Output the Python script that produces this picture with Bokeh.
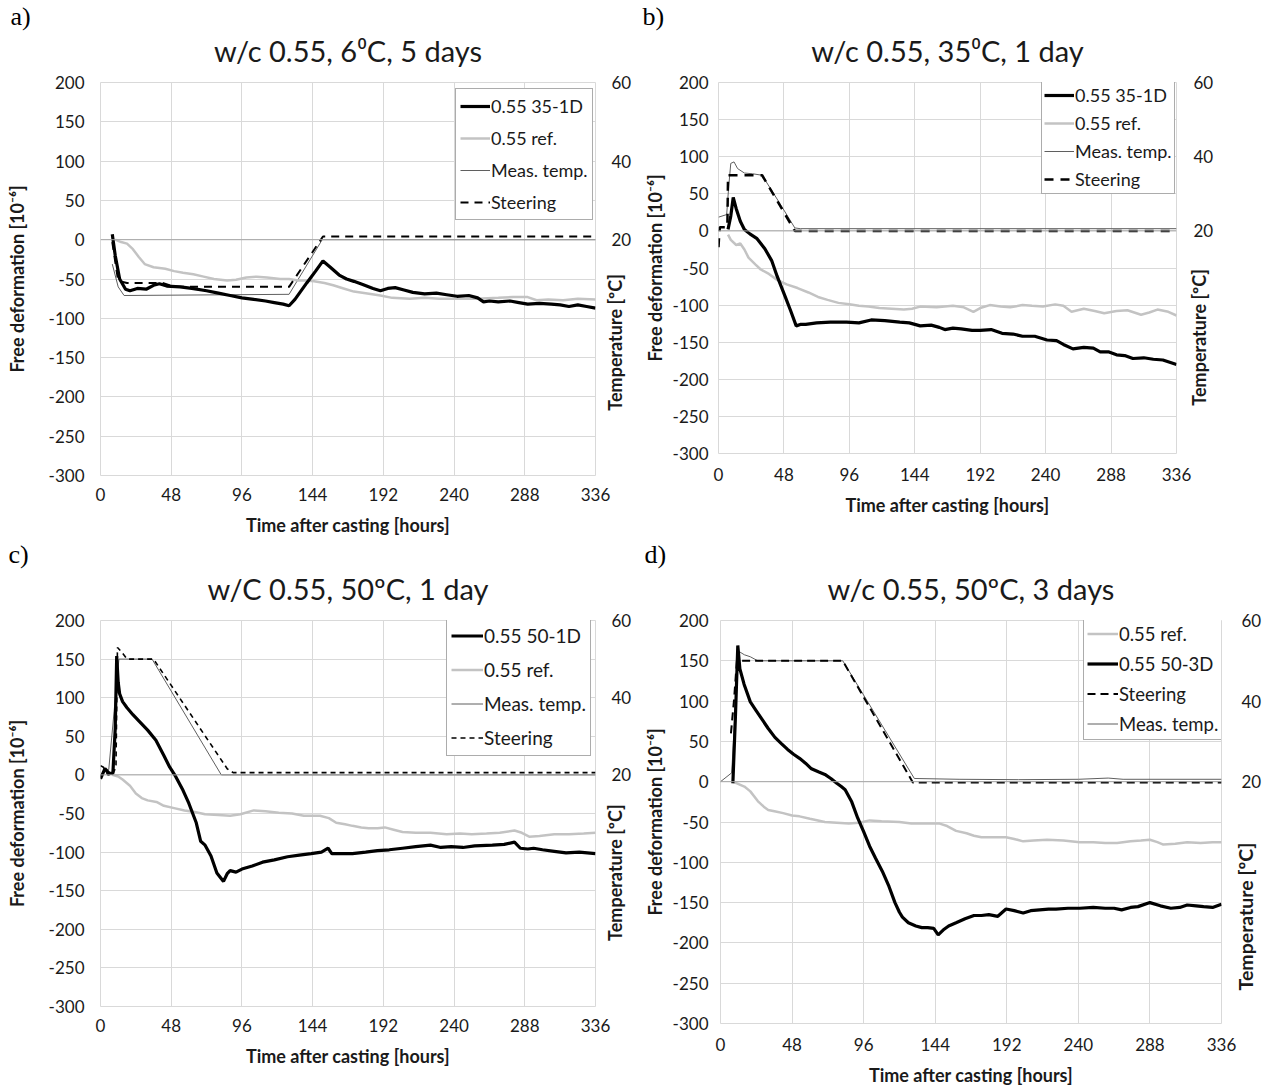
import math
from bokeh.plotting import figure
from bokeh.models import Range1d, LinearAxis, FixedTicker, Legend, LegendItem, Span, Title
from bokeh.layouts import column, row
from bokeh.embed import file_html
from bokeh.resources import INLINE

# ---------------- data ----------------
x_ticks = [0, 48, 96, 144, 192, 240, 288, 336]
y_ticks = [200, 150, 100, 50, 0, -50, -100, -150, -200, -250, -300]
temp_ticks = [20, 40, 60]

# panel a : w/c 0.55, 6 C, 5 days
a_t_main = [8, 10, 13, 17, 20, 25, 31, 36, 40, 45, 54, 62, 72, 80, 88, 96, 104, 112, 118, 124, 128,
            132, 140, 146, 151, 156, 162, 167, 172, 178, 185, 190, 195, 200, 206, 212, 220, 228, 235,
            242, 250, 256, 260, 264, 270, 278, 284, 290, 298, 306, 312, 318, 324, 330, 336]
a_d_main = [7, -20, -50, -63, -65, -62, -63, -58, -56, -59, -60, -62, -65, -68, -71, -74, -76, -78, -80,
            -82, -84, -76, -55, -40, -27, -35, -45, -50, -53, -57, -62, -65, -62, -61, -64, -67, -69,
            -68, -70, -72, -71, -74, -79, -78, -79, -78, -80, -82, -81, -82, -83, -85, -83, -85, -87]
a_t_ref = [10, 14, 18, 22, 26, 30, 36, 44, 50, 56, 63, 70, 77, 86, 92, 99, 106, 113, 122, 128, 134,
           140, 145, 152, 158, 165, 172, 180, 190, 198, 210, 220, 230, 240, 256, 270, 280, 290, 296,
           304, 314, 324, 336]
a_d_ref = [0, -3, -5, -12, -22, -31, -35, -37, -40, -42, -44, -47, -50, -52, -51, -48, -47, -48, -50,
           -50, -52, -52, -53, -55, -58, -62, -66, -68, -71, -74, -75, -74, -75, -75, -75, -74, -73,
           -73, -77, -76, -77, -75, -76]
a_t_meas = [8, 12, 16, 128, 150.5, 336]
a_temp_meas = [13.8, 8.0, 5.8, 6.1, 20.0, 20.0]
a_t_steer = [8, 12, 18, 42, 50, 128, 151, 336]
a_temp_steer = [19.4, 9.5, 9.0, 9.0, 8.0, 8.0, 20.8, 20.8]

# panel b : w/c 0.55, 35 C, 1 day
b_t_main = [7, 9, 10.8, 13, 16, 19, 23, 28, 34, 39, 43, 49, 53, 57, 60, 64, 72, 82, 94, 103, 112, 122,
            133, 140, 148, 156, 162, 166, 172, 178, 186, 192, 200, 208, 216, 223, 232, 241, 248, 253,
            260, 268, 275, 280, 286, 292, 298, 304, 312, 319, 326, 336]
b_d_main = [2, 20, 45, 30, 13, 2, -4, -10, -24, -40, -61, -89, -108, -128, -126, -126, -124, -123, -123,
            -124, -120, -121, -123, -124, -128, -127, -130, -133, -131, -132, -134, -134, -133, -138,
            -139, -142, -142, -147, -148, -153, -159, -157, -158, -163, -163, -167, -168, -172, -171,
            -173, -174, -180]
b_t_ref = [7, 9, 13, 16, 19, 22, 27, 31, 37, 43, 50, 58, 66, 73, 80, 88, 96, 103, 110, 118, 127, 136,
           142, 148, 160, 172, 180, 187, 192, 199, 207, 214, 223, 230, 238, 247, 253, 259, 268, 276,
           283, 292, 300, 310, 316, 322, 330, 336]
b_d_ref = [-5, -12, -19, -17, -25, -36, -45, -52, -58, -66, -72, -77, -83, -89, -93, -97, -99, -101,
           -102, -104, -105, -106, -105, -102, -103, -101, -103, -109, -104, -100, -102, -103, -100,
           -101, -102, -99, -101, -109, -105, -108, -111, -108, -107, -113, -110, -106, -109, -114]
b_t_meas = [0, 6, 7.5, 9, 11.4, 14, 19, 25, 32, 44, 56, 60, 336]
b_temp_meas = [23.7, 24.4, 32.0, 38.2, 38.6, 36.8, 35.6, 35.4, 35.0, 28.0, 20.8, 20.6, 20.6]
b_t_steer = [0, 0.5, 1, 6.5, 7, 32, 56, 336]
b_temp_steer = [15.6, 18.8, 21.0, 21.0, 35.0, 35.0, 20.0, 20.0]

# panel c : w/C 0.55, 50 C, 1 day
c_t_main = [0, 3, 6, 8.4, 10, 11, 12, 13, 15, 18, 22, 26, 32, 37.6, 43, 47, 51, 56, 60, 65, 68, 71, 75,
            79, 83.5, 86, 88, 92, 96, 103, 110, 118, 127, 135, 143, 150, 154.5, 157, 164, 171, 180,
            188, 196, 205, 214, 224, 231, 238, 246, 254, 266, 274, 281, 285, 290, 294, 300, 308, 316,
            325, 336]
c_d_main = [-5, 8, 2, 2, 60, 154, 120, 105, 95, 87, 78, 70, 58, 45, 25, 10, -2, -20, -37, -62, -86,
            -91, -105, -127, -138, -128, -124, -126, -122, -118, -113, -110, -106, -104, -102, -100,
            -95, -102, -102, -102, -100, -98, -97, -95, -93, -91, -94, -93, -94, -92, -91, -90, -87,
            -95, -96, -95, -97, -99, -101, -100, -102]
c_t_ref = [8, 12, 15, 20, 24, 28, 32, 38, 43, 50, 57, 64, 71, 80, 88, 95, 104, 112, 121, 130, 138, 149,
           155, 160, 166, 171, 177, 182, 188, 193, 199, 205, 214, 224, 235, 244, 252, 262, 271, 281,
           286, 291, 298, 308, 318, 328, 336]
c_d_ref = [0, -2, -6, -14, -24, -30, -33, -35, -40, -43, -46, -48, -51, -52, -53, -51, -46, -47, -49,
           -50, -53, -53, -56, -62, -64, -66, -68, -69, -69, -68, -71, -74, -75, -75, -77, -76, -77,
           -76, -75, -72, -75, -80, -79, -77, -77, -76, -75]
c_t_meas = [0, 5.6, 12.5, 35, 82, 336]
c_temp_meas = [20.0, 21.4, 50.0, 50.0, 20.0, 20.0]
c_t_steer = [0, 2, 5, 8, 10.5, 11.5, 14, 18, 36, 86, 90, 336]
c_temp_steer = [22.4, 22.0, 20.0, 20.0, 22.0, 53.0, 52.0, 50.0, 50.0, 21.6, 20.6, 20.6]

# panel d : w/c 0.55, 50 C, 3 days
d_t_main = [8.3, 10, 11.6, 13, 15.8, 20, 24, 28, 32, 36.5, 41, 45, 49, 53, 57, 61, 66, 70, 74, 78, 81,
            83.6, 88, 92, 96, 100, 104, 108.5, 113, 117, 120, 122, 126, 131, 135, 139, 143, 146, 150,
            153, 158, 164, 170, 175, 180, 186, 191.5, 197, 203, 208, 214, 220, 225, 233, 241, 250,
            258, 264, 269, 275, 280, 288, 295, 302, 308, 313, 319, 324, 330, 336]
d_d_main = [-2, 80, 169, 140, 121, 99, 88, 77, 66, 55, 47, 40, 34, 29, 23, 16, 12, 9, 4, -2, -6, -10,
            -25, -45, -62, -80, -95, -111, -130, -150, -162, -168, -175, -179, -181, -181, -182, -190,
            -183, -179, -175, -170, -166, -166, -165, -167, -158, -160, -163, -160, -159, -158, -158,
            -157, -157, -156, -157, -157, -159, -156, -155, -150, -154, -157, -156, -153, -154, -155,
            -156, -152]
d_t_ref = [8, 11, 16, 20, 25, 29, 32, 37, 42, 48, 53, 60, 70, 78, 86, 93, 100, 108, 120, 128, 136, 147,
           152, 158, 165, 170, 175, 182, 191.5, 197, 203, 210, 219, 230, 241, 250, 258, 266, 275, 282,
           288, 293, 297, 305, 313, 322, 330, 336]
d_d_ref = [0, -2, -6, -12, -24, -31, -35, -37, -39, -42, -43, -46, -50, -51, -52, -51, -48, -49, -50,
           -52, -52, -52, -55, -61, -64, -67, -69, -69, -69, -71, -74, -73, -72, -73, -75, -75, -76,
           -76, -74, -73, -72, -75, -78, -77, -75, -76, -75, -75]
d_t_meas = [0, 7.5, 12, 16, 20, 25, 82, 130, 160, 200, 240, 260, 270, 336]
d_temp_meas = [20.0, 22.2, 52.4, 51.5, 51.0, 50.0, 50.0, 20.8, 20.6, 20.5, 20.6, 20.9, 20.6, 20.6]
d_t_steer = [7, 9, 11, 82, 129, 336]
d_temp_steer = [32.0, 40.0, 50.0, 50.0, 19.8, 19.8]

# ---------------- styling ----------------
FONT = "Lato"
SERIF = "Liberation Serif"
TXT = "#1a1a1a"
GRID = "#d9d9d9"
TEMP_LABEL = "Temperature [\u00baC]"


def style_axis(ax):
    ax.axis_line_color = None
    ax.major_tick_line_color = None
    ax.minor_tick_line_color = None
    ax.major_tick_out = 0
    ax.major_tick_in = 0
    ax.major_label_text_font = FONT
    ax.major_label_text_font_size = "17px"
    ax.major_label_text_color = TXT
    ax.axis_label_text_font = FONT
    ax.axis_label_text_font_size = "18px"
    ax.axis_label_text_font_style = "bold"
    ax.axis_label_text_color = TXT


def panel(cfg):
    w, h = cfg["size"]
    bl, br, bt, bb = cfg["borders"]
    p = figure(width=w, height=h, x_range=Range1d(0, 336), y_range=Range1d(-300, 200),
               output_backend="svg", toolbar_location=None,
               min_border_left=bl, min_border_right=br, min_border_top=bt, min_border_bottom=bb)
    p.extra_y_ranges = {"temp": Range1d(-40, 60)}
    p.outline_line_color = GRID
    p.grid.grid_line_color = GRID
    p.grid.grid_line_width = 1

    xa = p.xaxis[0]
    ya = p.yaxis[0]
    xa.ticker = FixedTicker(ticks=x_ticks)
    ya.ticker = FixedTicker(ticks=y_ticks)
    ya.major_label_overrides = {v: str(v) for v in y_ticks}
    for ax in (xa, ya):
        style_axis(ax)
    xa.axis_label = "Time after casting [hours]"
    ya.axis_label = "Free deformation [10\u207b\u2076]"
    xa.major_label_standoff = cfg["xstand"][0]
    xa.axis_label_standoff = cfg["xstand"][1]
    ya.major_label_standoff = cfg["ystand"][0]
    ya.axis_label_standoff = cfg["ystand"][1]

    # secondary (temperature) axis
    ra = LinearAxis(y_range_name="temp", ticker=FixedTicker(ticks=temp_ticks))
    style_axis(ra)
    ra.major_label_standoff = cfg["rstand"]
    p.add_layout(ra, "right")
    # its title: one rotated label that starts at a point of the temperature scale
    tpos = cfg["rlabel_at"]
    rt = LinearAxis(y_range_name="temp", ticker=FixedTicker(ticks=[tpos]),
                    major_label_overrides={tpos: TEMP_LABEL},
                    major_label_orientation=math.pi / 2)
    style_axis(rt)
    rt.major_label_text_font_size = cfg["rlabel_fs"]
    rt.major_label_text_font_style = "bold"
    rt.major_label_standoff = cfg["rlabel_stand"]
    p.add_layout(rt, "right")

    p.add_layout(Span(location=0, dimension="width", line_color="#a6a6a6", line_width=1))

    rends = {}
    rends["meas"] = p.line(cfg["meas"][0], cfg["meas"][1], y_range_name="temp",
                           line_color="#5f5f5f", line_width=1)
    rends["ref"] = p.line(cfg["ref"][0], cfg["ref"][1], line_color="#c3c3c3", line_width=2.5)
    rends["main"] = p.line(cfg["main"][0], cfg["main"][1], line_color="black", line_width=3.2)
    rends["steer"] = p.line(cfg["steer"][0], cfg["steer"][1], y_range_name="temp",
                            line_color="black", line_width=cfg["dash_w"], line_dash=cfg["dash"])

    items = [LegendItem(label=lab, renderers=[rends[key]]) for key, lab in cfg["legend"]]
    lg = cfg["lg"]
    leg = Legend(items=items, location=(lg["x"], lg["y"]), orientation="vertical",
                 border_line_color="#595959", border_line_width=1,
                 background_fill_color="white", background_fill_alpha=1.0,
                 padding=lg["pad"], spacing=lg["sp"], margin=0,
                 glyph_width=lg["gw"], glyph_height=lg["ih"], label_height=lg["ih"],
                 label_standoff=1, label_text_font=FONT, label_text_font_size=lg["fs"],
                 label_text_color=TXT, label_text_baseline="middle")
    p.add_layout(leg)

    # panel letter (outermost) and chart title (next to the plot)
    p.title.text = cfg["letter"]
    p.title.align = "left"
    p.title.offset = cfg["letter_off"]
    p.title.text_font = SERIF
    p.title.text_font_size = "26px"
    p.title.text_font_style = "normal"
    p.title.text_color = "black"
    p.title.standoff = -30
    p.add_layout(Title(text=cfg["title"], align="center", text_font=FONT, text_font_size="29px",
                       text_font_style="normal", text_color=TXT, standoff=30), "above")
    return p


pa = panel(dict(size=(640, 540), borders=(100, 45, 82, 65),
                xstand=(12, 10), ystand=(16, 18), rstand=16,
                rlabel_at=-23.5, rlabel_stand=-19, rlabel_fs="18px",
                main=(a_t_main, a_d_main), ref=(a_t_ref, a_d_ref),
                meas=(a_t_meas, a_temp_meas), steer=(a_t_steer, a_temp_steer),
                dash="8 6", dash_w=2,
                legend=[("main", "0.55 35-1D"), ("ref", "0.55 ref."),
                        ("meas", "Meas. temp."), ("steer", "Steering")],
                lg=dict(x=355, y=255, pad=4, sp=6, gw=30, ih=26, fs="18px"),
                letter="a)", letter_off=-90, title="w/c 0.55, 6\u2070C, 5 days"))

pb = panel(dict(size=(588, 518), borders=(77, 52, 82, 65),
                xstand=(14, 10), ystand=(10, 4), rstand=17,
                rlabel_at=-27.1, rlabel_stand=-17, rlabel_fs="18px",
                main=(b_t_main, b_d_main), ref=(b_t_ref, b_d_ref),
                meas=(b_t_meas, b_temp_meas), steer=(b_t_steer, b_temp_steer),
                dash="9 7", dash_w=2.5,
                legend=[("main", "0.55 35-1D"), ("ref", "0.55 ref."),
                        ("meas", "Meas. temp."), ("steer", "Steering")],
                lg=dict(x=323, y=259, pad=2, sp=4, gw=30, ih=24, fs="18px"),
                letter="b)", letter_off=-76, title="w/c 0.55, 35\u2070C, 1 day"))

pc = panel(dict(size=(640, 531), borders=(100, 45, 80, 63),
                xstand=(12, 10), ystand=(16, 18), rstand=16,
                rlabel_at=-23.0, rlabel_stand=-19, rlabel_fs="18px",
                main=(c_t_main, c_d_main), ref=(c_t_ref, c_d_ref),
                meas=(c_t_meas, c_temp_meas), steer=(c_t_steer, c_temp_steer),
                dash="5 4", dash_w=1.6,
                legend=[("main", "0.55 50-1D"), ("ref", "0.55 ref."),
                        ("meas", "Meas. temp."), ("steer", "Steering")],
                lg=dict(x=346, y=250, pad=4, sp=7, gw=32, ih=27, fs="19px"),
                letter="c)", letter_off=-92, title="w/C 0.55, 50\u00baC, 1 day"))

pd_ = panel(dict(size=(633, 548), borders=(77, 52, 80, 63),
                 xstand=(14, 10), ystand=(12, 4), rstand=20,
                 rlabel_at=-31.8, rlabel_stand=-19, rlabel_fs="19.5px",
                 main=(d_t_main, d_d_main), ref=(d_t_ref, d_d_ref),
                 meas=(d_t_meas, d_temp_meas), steer=(d_t_steer, d_temp_steer),
                 dash="8 5", dash_w=2,
                 legend=[("ref", "0.55 ref."), ("main", "0.55 50-3D"),
                         ("steer", "Steering"), ("meas", "Meas. temp.")],
                 lg=dict(x=363, y=283, pad=3, sp=5, gw=31, ih=25, fs="18.5px"),
                 letter="d)", letter_off=-76, title="w/c 0.55, 50\u00baC, 3 days"))

layout = column(row(pa, pb), row(pc, pd_))
open("out.html", "w").write(file_html(layout, INLINE))
